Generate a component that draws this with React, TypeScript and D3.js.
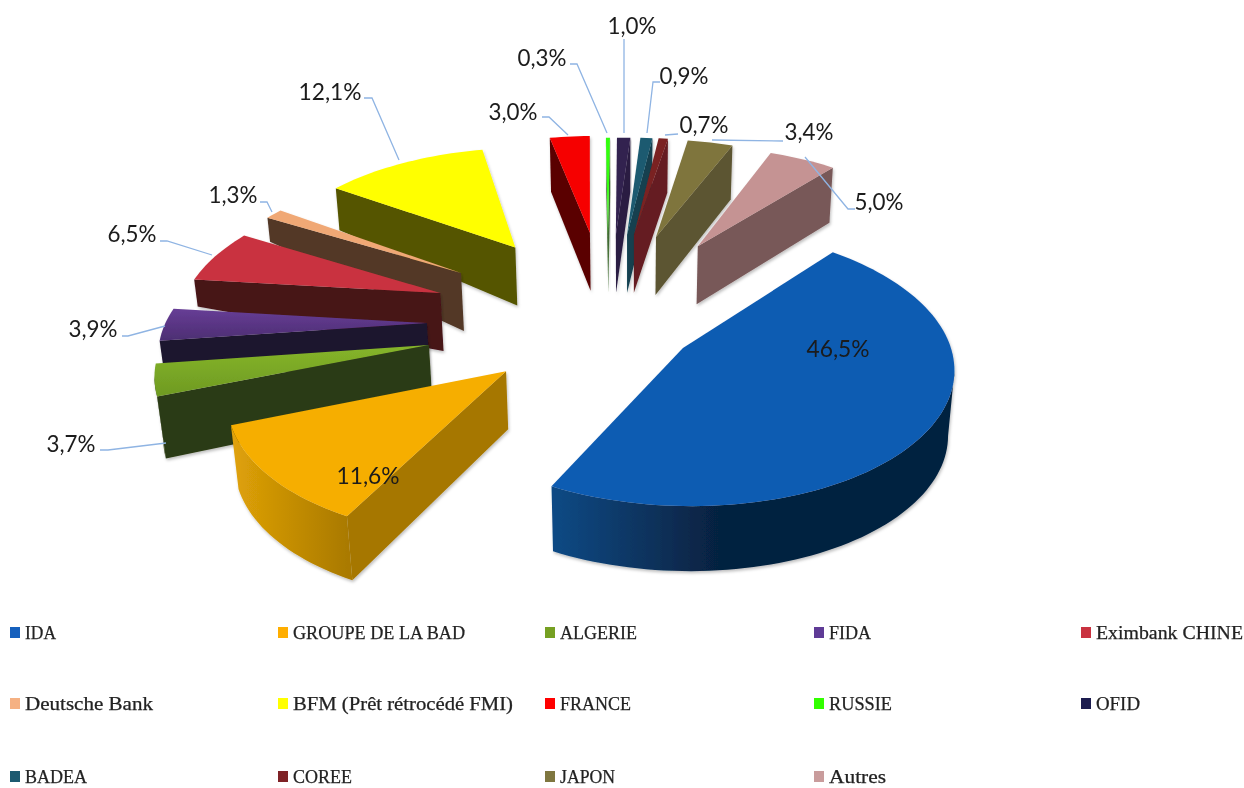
import React from 'react'
import * as d3 from 'd3'

const categories = ['IDA', 'GROUPE DE LA BAD', 'ALGERIE', 'FIDA', 'Eximbank CHINE', 'Deutsche Bank', 'BFM (Prêt rétrocédé FMI)', 'FRANCE', 'RUSSIE', 'OFID', 'BADEA', 'COREE', 'JAPON', 'Autres']
const values = [46.5, 11.6, 3.7, 3.9, 6.5, 1.3, 12.1, 3.0, 0.3, 1.0, 0.9, 0.7, 3.4, 5.0]
const valueLabels = ['46,5%', '11,6%', '3,7%', '3,9%', '6,5%', '1,3%', '12,1%', '3,0%', '0,3%', '1,0%', '0,9%', '0,7%', '3,4%', '5,0%']

// slice styling
const topColors = ['#115bb2', '#f6ae00', '#7dab28', '#5c3688', '#c9333f', '#f0a875', '#ffff00', '#f60000', '#33ff11', '#33204f', '#1a5a70', '#7a2020', '#7f743c', '#c59393']
const faceColors = ['#0b2b52', '#a67700', '#2c3b13', '#1e142d', '#471218', '#523828', '#555500', '#5a0000', '#3f6b30', '#2a1c42', '#123f50', '#651c20', '#5c5430', '#785858']
const rimLeft = ['#0f4a85', '#e0a208', '#2c3b13', '#1e142d', '#471218', '#523828', '#555500', '#5a0000', '#3f6b30', '#2a1c42', '#123f50', '#651c20', '#5c5430', '#785858']
const rimRight = ['#06213f', '#aa7a00', '#2c3b13', '#1e142d', '#471218', '#523828', '#555500', '#5a0000', '#3f6b30', '#2a1c42', '#123f50', '#651c20', '#5c5430', '#785858']
const legendColors = ['#1560bd', '#ffae00', '#76a020', '#5e3a96', '#c9333f', '#f5b183', '#ffff00', '#ff0000', '#33ff00', '#1f1a4f', '#1f5a70', '#7f2228', '#7f773f', '#c99c9c']

// how far each slice is pulled out of the pie, in radius units on the pie plane
const explodeX = [0.205, -0.445, -0.745, -0.769, -0.74, -0.672, -0.466, -0.16, -0.084, -0.051, -0.004, 0.025, 0.117, 0.289]
const explodeY = [-0.172, -0.337, -0.15, 0.015, 0.252, 0.419, 0.642, 0.776, 0.757, 0.757, 0.757, 0.757, 0.736, 0.653]
const rimDepth = [65, 64, 62, 23, 27, 24, 42, 54, 54, 54, 54, 54, 54, 55]

const labelX = [838, 368, 71, 93, 132, 233, 330, 513, 542, 632, 684, 704, 809, 879]
const labelY = [357, 484, 452, 337, 242, 203, 100, 120, 66, 34, 84, 133, 140, 210]
const leaders = [
  null, null,
  [[100, 450], [108, 450], [166, 443]],
  [[122, 336], [128, 336], [165, 326]],
  [[160, 241], [167, 241], [212, 255]],
  [[260, 202], [267, 202], [272, 212]],
  [[364, 98], [372, 98], [399, 160]],
  [[542, 117], [549, 117], [568, 135]],
  [[570, 64], [577, 64], [607, 133]],
  [[624, 39], [624, 133]],
  [[660, 82], [653, 82], [647, 133]],
  [[678, 134], [665, 135]],
  [[783, 141], [712, 140]],
  [[855, 209], [848, 209], [805, 157]],
]

const legendCols = [10, 278, 545, 814, 1081]
const legendRows = [633, 704, 777]
const legendWidths = [31, 172, 77, 42, 147, 128, 220, 71, 63, 44, 62, 59, 55, 57]

const cx = 628
const cy = 325
const R = 262
const tilt = 0.5
const persp = 0.13
const apexDepth = 58
const startDeg = 39.6

const project = (X: number, Y: number) => {
  const w = 1 + persp * Y
  return [cx + (R * X) / w, cy - (R * tilt * Y) / w]
}
const lower = (p: number[], depth: number) => [p[0] + (cx - p[0]) * depth * 0.0003, p[1] + depth]

const line = d3.line()
const poly = (pts: number[][]) => line(pts as [number, number][]) + 'Z'

const pie = d3.pie<number>().sort(null)
  .startAngle((startDeg * Math.PI) / 180)
  .endAngle((startDeg * Math.PI) / 180 + 2 * Math.PI)
const arcs = pie(values)

const slices = arcs.map((a, i) => {
  const n = Math.max(2, Math.ceil((a.endAngle - a.startAngle) / 0.03))
  const rim = d3.range(n + 1).map(j => {
    const t = a.startAngle + ((a.endAngle - a.startAngle) * j) / n
    return project(explodeX[i] + Math.sin(t), explodeY[i] + Math.cos(t))
  })
  const apex = project(explodeX[i], explodeY[i])
  const apexLow = lower(apex, apexDepth)

  const faces: string[] = []
  // radial walls are visible only where the outline runs right to left
  if (rim[0][0] < apex[0]) faces.push(poly([apex, rim[0], lower(rim[0], rimDepth[i]), apexLow]))
  if (apex[0] < rim[n][0]) faces.push(poly([rim[n], apex, apexLow, lower(rim[n], rimDepth[i])]))

  const rimRuns: number[][][] = []
  let run: number[][] = []
  for (let j = 0; j < n; j++) {
    if (rim[j + 1][0] < rim[j][0]) {
      if (!run.length) run.push(rim[j])
      run.push(rim[j + 1])
    } else if (run.length) {
      rimRuns.push(run)
      run = []
    }
  }
  if (run.length) rimRuns.push(run)

  const walls = rimRuns.map(r => ({
    d: poly([...r, ...r.slice().reverse().map(p => lower(p, rimDepth[i]))]),
    x0: d3.min(r, p => p[0]) as number,
    x1: d3.max(r, p => p[0]) as number,
  }))

  return { i, top: poly([apex, ...rim]), faces, walls, order: explodeY[i] }
})

const drawOrder = d3.sort(slices, (a, b) => d3.descending(a.order, b.order))

export default function App() {
  return (
    <svg width={1244} height={788} style={{ position: 'absolute', left: 0, top: 0, background: '#fff' }}>
      <defs>
        <filter id="soft" x="-10%" y="-10%" width="120%" height="125%">
          <feDropShadow dx="1" dy="2" stdDeviation="1.5" floodColor="#000" floodOpacity="0.25" />
        </filter>
        <filter id="blurry" x="0" y="0" width="100%" height="100%">
          <feGaussianBlur stdDeviation="0.5" />
        </filter>
        <linearGradient id="topAlg" x1="0" y1="0" x2="0" y2="1">
          <stop offset="0" stopColor="#86b52a" />
          <stop offset="1" stopColor="#6e9a22" />
        </linearGradient>
        <linearGradient id="topFida" x1="0" y1="0" x2="0" y2="1">
          <stop offset="0" stopColor="#673d96" />
          <stop offset="1" stopColor="#4c2e72" />
        </linearGradient>
        {slices.flatMap(s => s.walls.map((w, k) => (
          <linearGradient key={s.i + '-' + k} id={`rim${s.i}-${k}`} gradientUnits="userSpaceOnUse" x1={w.x0} x2={w.x1} y1={0} y2={0}>
            <stop offset="0" stopColor={rimLeft[s.i]} />
            <stop offset={s.i === 0 ? 0.42 : 1} stopColor={rimRight[s.i]} />
          </linearGradient>
        )))}
      </defs>

      <g filter="url(#blurry)">
        {drawOrder.map(s => (
          <g key={s.i} filter="url(#soft)">
            {s.faces.map((d, k) => <path key={k} d={d} fill={faceColors[s.i]} />)}
            {s.walls.map((w, k) => <path key={k} d={w.d} fill={`url(#rim${s.i}-${k})`} />)}
            <path d={s.top} fill={s.i === 2 ? 'url(#topAlg)' : s.i === 3 ? 'url(#topFida)' : topColors[s.i]} />
          </g>
        ))}

        {leaders.map((pts, i) => pts && (
          <path key={i} d={line(pts as [number, number][]) as string} fill="none" stroke="#8fb4e3" strokeWidth={1.3} />
        ))}

        {valueLabels.map((t, i) => (
          <text key={t + i} x={labelX[i]} y={labelY[i]} textAnchor="middle" fontFamily="Lato" fontSize={24} fill="#1a1a1a"
            textLength={t.length === 5 && t[2] === ',' ? 63 : 49} lengthAdjust="spacingAndGlyphs">{t}</text>
        ))}

        {categories.map((c, i) => {
          const col = i % 5
          const row = Math.floor(i / 5)
          return (
            <g key={c}>
              <rect x={legendCols[col]} y={legendRows[row] - 6} width={10} height={11} fill={legendColors[i]} />
              <text x={legendCols[col] + 15} y={legendRows[row] + 6} fontFamily="Liberation Serif" fontSize={19} fill="#222" stroke="#222" strokeWidth={0.25}
                textLength={legendWidths[i]} lengthAdjust="spacingAndGlyphs">{c}</text>
            </g>
          )
        })}
      </g>
    </svg>
  )
}
